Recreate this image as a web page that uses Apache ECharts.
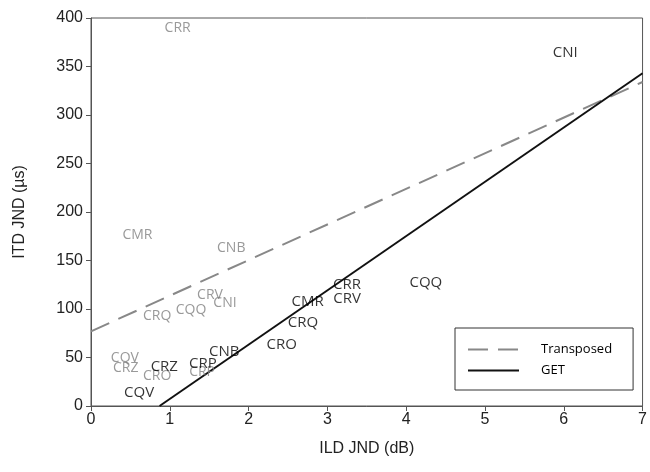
<!DOCTYPE html>
<html><head><meta charset="utf-8">
<script src="https://cdn.jsdelivr.net/npm/echarts@6/dist/echarts.min.js"></script>
<style>html,body{margin:0;padding:0;background:#fff}#c{width:650px;height:472px}</style>
</head><body><div id="c"></div>
<script>
var transposedNames = ['CRR','CMR','CNB','CRV','CNI','CRQ','CQQ','CQV','CRZ','CRO','CRP'];
var transposedX = [1.10,0.59,1.78,1.51,1.70,0.84,1.27,0.43,0.44,0.84,1.41];
var transposedY = [390,176,163,114,106,93,99,49,39,31,35];
var getNames = ['CNI','CQQ','CRR','CRV','CMR','CRQ','CRO','CNB','CRP','CRZ','CQV'];
var getX = [6.02,4.25,3.25,3.25,2.75,2.69,2.42,1.69,1.42,0.93,0.61];
var getY = [364,127,125,111,107,86,63,56,44,40,14];
var transposedLine = [[0,77],[7,334]];
var getLine = [[0.87,0],[7,343]];
var xTicks = [0,1,2,3,4,5,6,7];
var yTicks = [0,50,100,150,200,250,300,350,400];

function pts(names, xs, ys){ return names.map(function(n,i){return {name:n, value:[xs[i], ys[i]]};}); }
var labelFont = '"Open Sans", sans-serif';
var chart = echarts.init(document.getElementById('c'));
chart.setOption({
  animation:false,
  grid:{left:91,right:4,top:18,bottom:66,show:true,borderColor:'#555',borderWidth:1},
  xAxis:{type:'value',min:0,max:7,interval:1,
    name:'ILD JND (dB)',nameLocation:'middle',nameGap:35,
    nameTextStyle:{fontFamily:'Liberation Sans',fontSize:16,color:'#222'},
    axisLine:{lineStyle:{color:'#555'}},axisTick:{show:true,length:5,lineStyle:{color:'#555'}},
    axisLabel:{fontFamily:'Liberation Sans',fontSize:16,color:'#222',margin:6},
    splitLine:{show:false}},
  yAxis:{type:'value',min:0,max:400,interval:50,
    name:'ITD JND (\u00b5s)',nameLocation:'middle',nameGap:63,nameRotate:90,
    nameTextStyle:{fontFamily:'Liberation Sans',fontSize:16,color:'#222'},
    axisLine:{show:true,lineStyle:{color:'#555'}},axisTick:{show:true,length:5,lineStyle:{color:'#555'}},
    axisLabel:{fontFamily:'Liberation Sans',fontSize:16,color:'#222',margin:8},
    splitLine:{show:false}},
  legend:{left:455,top:328,orient:'vertical',itemWidth:51,itemHeight:14,itemGap:8,
    padding:[15,21,13,12],borderColor:'#333',borderWidth:1,backgroundColor:'#fff',
    itemStyle:{opacity:0},
    textStyle:{fontFamily:labelFont,fontSize:13,color:'#000',padding:[0,0,0,17]},
    data:['Transposed','GET']},
  series:[
    {name:'Transposed',type:'line',data:transposedLine,symbol:'none',
      itemStyle:{color:'#888'},lineStyle:{color:'#888',width:2,type:[20,10]},z:2},
    {name:'GET',type:'line',data:getLine,symbol:'none',
      itemStyle:{color:'#111'},lineStyle:{color:'#111',width:2},z:2},
    {name:'tLabels',type:'scatter',data:pts(transposedNames,transposedX,transposedY),symbolSize:0,z:3,
      label:{show:true,position:'inside',formatter:'{b}',fontFamily:labelFont,fontSize:14,color:'#808080'}},
    {name:'gLabels',type:'scatter',data:pts(getNames,getX,getY),symbolSize:0,z:4,
      label:{show:true,position:'inside',formatter:'{b}',fontFamily:labelFont,fontSize:15,color:'#000'}}
  ]
});
</script></body></html>
